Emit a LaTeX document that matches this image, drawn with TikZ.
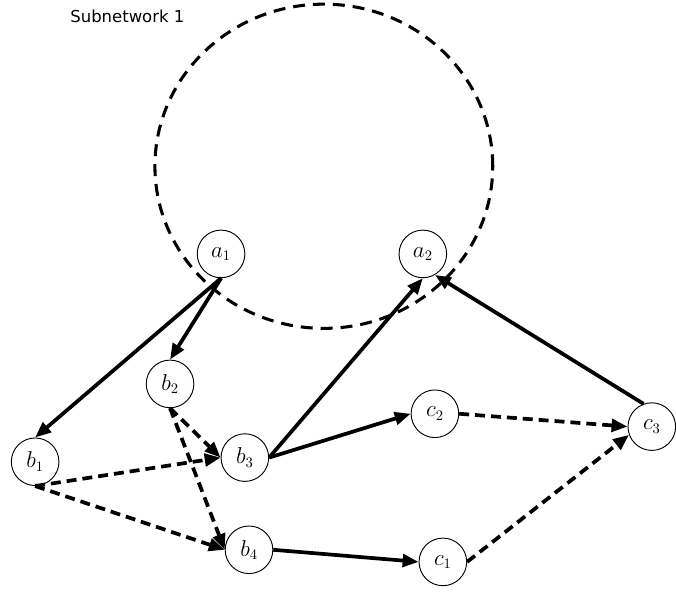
\documentclass[tikz,border=0pt]{standalone}
\usepackage{fontspec}
\newfontfamily\subfont{DejaVu Sans}
\usetikzlibrary{arrows.meta}
\tikzset{
	nut/.style={draw,circle,line width=0.7pt,minimum size=1.26cm,inner sep=0pt,font=\fontsize{16}{18}\selectfont},
	canh/.style={line width=2.8pt,-{Triangle[length=12pt,width=9.5pt]}},
	canhdut/.style={canh,dash pattern=on 7.5pt off 4.5pt}
}
\begin{document}
\begin{tikzpicture}
			\useasboundingbox (0,0) rectangle (17.89,15.66);
			%vung
			\draw[line width=2.3pt,dash pattern=on 9pt off 6pt] (8.57,11.26) ellipse (4.47cm and 4.29cm);
			\node[font=\subfont\fontsize{12.4}{14}\selectfont] (ten) at (3.37,15.24) {Subnetwork 1};
			%nut
			\node[nut] (a1) at (5.85,8.94) {$a_1$};
			\node[nut] (a2) at (11.19,8.94) {$a_2$};
			\node[nut] (b1) at (0.93,3.44) {$b_1$};
			\node[nut] (b2) at (4.50,5.50) {$b_2$};
			\node[nut] (b3) at (6.48,3.55) {$b_3$};
			\node[nut] (b4) at (6.59,1.11) {$b_4$};
			\node[nut] (c1) at (11.72,0.79) {$c_1$};
			\node[nut] (c2) at (11.51,4.71) {$c_2$};
			\node[nut] (c3) at (17.25,4.37) {$c_3$};
			%canh
			\draw[canh] (a1.south) -- (b1.north);
			\draw[canh] (a1.south) -- (b2.north);
			\draw[canh] (b3.east) -- (a2.south);
			\draw[canh] (c3.110) -- (a2.-60);
			\draw[canh] (b3.east) -- (c2.west);
			\draw[canh] (b4.east) -- (c1.west);
			%canh dut
			\draw[canhdut] (b2.south) -- (b3.west);
			\draw[canhdut] (b2.south) -- (b4.west);
			\draw[canhdut] (b1.south) -- (b3.west);
			\draw[canhdut] (b1.south) -- (b4.west);
			\draw[canhdut] (c2.east) -- (c3.west);
			\draw[canhdut] (c1.east) -- (c3.200);
		\end{tikzpicture}
\end{document}
